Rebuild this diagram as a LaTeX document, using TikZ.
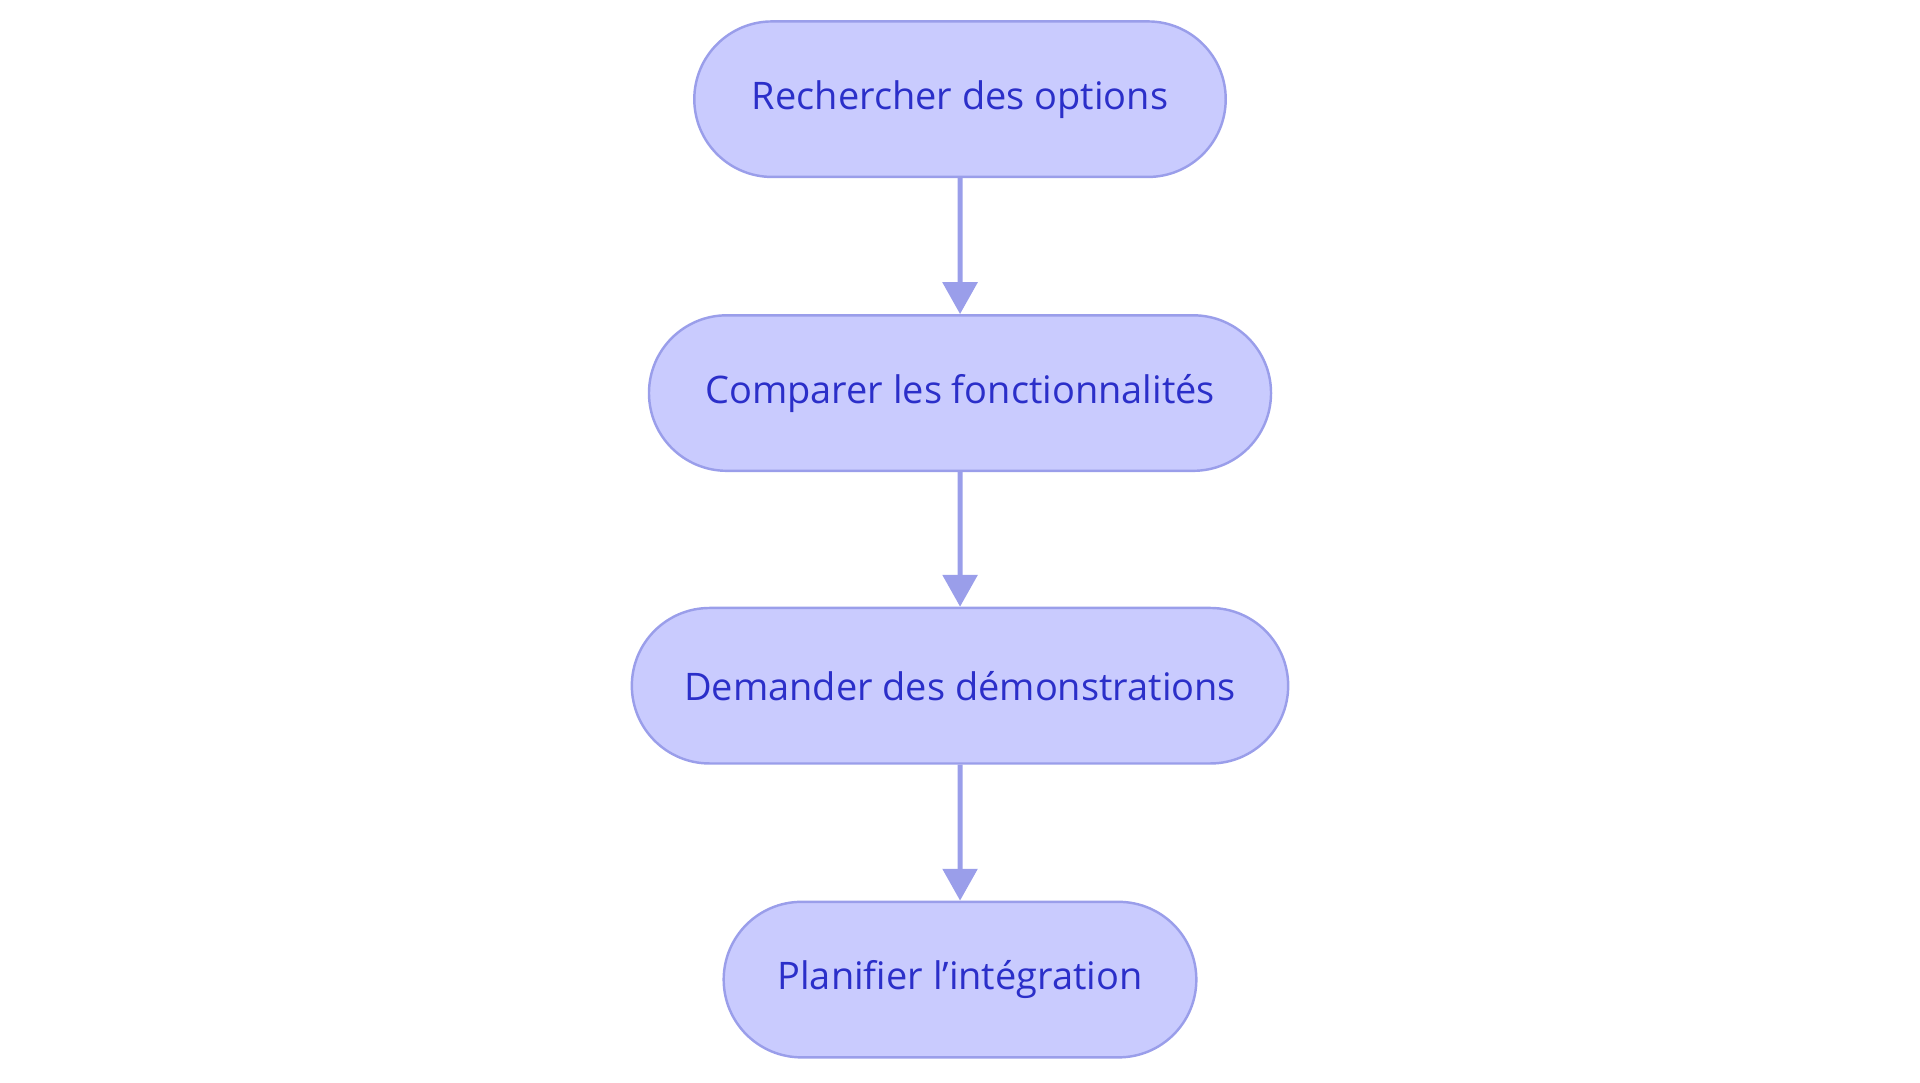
\documentclass[tikz,border=0pt]{standalone}
\usepackage{fontspec}
\setmainfont{Open Sans}
\usetikzlibrary{shapes.misc,arrows.meta}
\definecolor{nfill}{HTML}{C9CBFE}
\definecolor{nline}{HTML}{9A9EEA}
\definecolor{ntext}{HTML}{2B2FC9}
\begin{document}
\begin{tikzpicture}[x=0.5pt,y=-0.5pt,
  box/.style={rounded rectangle, draw=nline, line width=1pt, fill=nfill, text=ntext,
    font=\fontsize{15.5}{18}\selectfont, minimum height=63.5pt, inner sep=0pt},
  arr/.style={draw=nline, line width=2pt, -{Triangle[length=13pt,width=14pt]}}]
\useasboundingbox (0,0) rectangle (1568,884);
\node[box, minimum width=217pt] (a) at (784,81) {Rechercher des options};
\node[box, minimum width=254pt] (b) at (784,321) {Comparer les fonctionnalités};
\node[box, minimum width=268pt] (c) at (784,560) {Demander des démonstrations};
\node[box, minimum width=193pt] (d) at (784,800) {Planifier l'intégration};
\draw[arr] (a) -- (b);
\draw[arr] (b) -- (c);
\draw[arr] (c) -- (d);
\end{tikzpicture}
\end{document}
